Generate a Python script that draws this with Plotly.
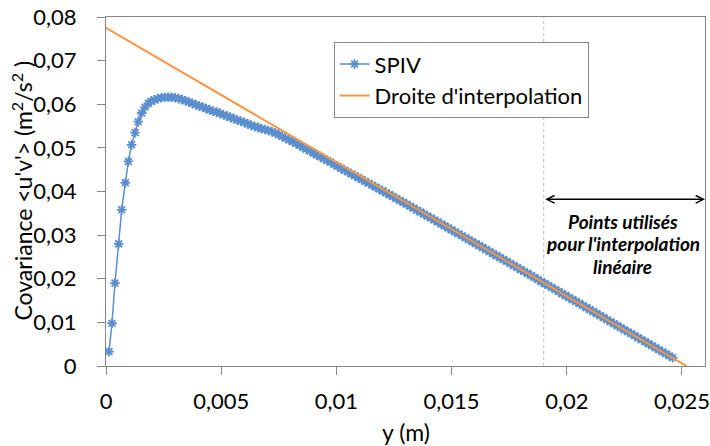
import plotly.graph_objects as go

# SPIV measurements (y in m, covariance in m^2/s^2)
spiv_x = [0.00013, 0.00026, 0.00039, 0.00055, 0.00068, 0.00084, 0.00097, 0.00111, 0.00126, 0.0014,
          0.00155, 0.00169, 0.00184,
          0.00195, 0.0021, 0.00225, 0.0024, 0.00255, 0.0027, 0.00285, 0.003, 0.00315, 0.0033,
          0.00345, 0.0036, 0.00375, 0.0039, 0.00405, 0.0042, 0.00435, 0.0045, 0.00465, 0.0048,
          0.00495, 0.0051, 0.00525, 0.0054, 0.00555, 0.0057, 0.00585, 0.006, 0.00615, 0.0063,
          0.00645, 0.0066, 0.00675, 0.0069, 0.00705, 0.0072, 0.00735, 0.0075, 0.00765, 0.0078,
          0.00795, 0.0081, 0.00825, 0.0084, 0.00855, 0.0087, 0.00885, 0.009, 0.00915, 0.0093,
          0.00945, 0.0096, 0.00975, 0.0099, 0.01005, 0.0102,
          0.01035, 0.0105, 0.01065, 0.0108, 0.01095, 0.0111, 0.01125, 0.0114, 0.01155, 0.0117,
          0.01185, 0.012, 0.01215, 0.0123, 0.01245, 0.0126, 0.01275, 0.0129, 0.01305, 0.0132,
          0.01335, 0.0135, 0.01365, 0.0138, 0.01395, 0.0141, 0.01425, 0.0144, 0.01455, 0.0147,
          0.01485, 0.015, 0.01515, 0.0153, 0.01545, 0.0156, 0.01575, 0.0159, 0.01605, 0.0162,
          0.01635, 0.0165, 0.01665, 0.0168, 0.01695, 0.0171, 0.01725, 0.0174, 0.01755, 0.0177,
          0.01785, 0.018, 0.01815, 0.0183, 0.01845, 0.0186, 0.01875, 0.0189, 0.01905, 0.0192,
          0.01935, 0.0195, 0.01965, 0.0198, 0.01995, 0.0201, 0.02025, 0.0204, 0.02055, 0.0207,
          0.02085, 0.021, 0.02115, 0.0213, 0.02145, 0.0216, 0.02175, 0.0219, 0.02205, 0.0222,
          0.02235, 0.0225, 0.02265, 0.0228, 0.02295, 0.0231, 0.02325, 0.0234, 0.02355, 0.0237,
          0.02385, 0.024, 0.02415, 0.0243, 0.02445, 0.0246]
spiv_y = [0.0033, 0.0098, 0.019, 0.028, 0.0358, 0.042, 0.0469, 0.0507, 0.0535, 0.056,
          0.058, 0.0593, 0.0602,
          0.0607, 0.0610, 0.0613, 0.0615, 0.0616, 0.0616, 0.0616, 0.0615, 0.0613, 0.0611,
          0.0608, 0.0605, 0.0602, 0.0599, 0.0596, 0.0593, 0.0590, 0.0587, 0.0584, 0.0582,
          0.0579, 0.0576, 0.0573, 0.0570, 0.0567, 0.0564, 0.0561, 0.0558, 0.0555, 0.0552,
          0.0549, 0.0547, 0.0544, 0.0542, 0.0540, 0.0537, 0.0534, 0.0530, 0.0526, 0.0522,
          0.0518, 0.0514, 0.0510, 0.0506, 0.0501, 0.0497, 0.0493, 0.0488, 0.0484, 0.0480,
          0.0475, 0.0471, 0.0467, 0.0462, 0.0458, 0.0453,
          0.04489, 0.04446, 0.04403, 0.0436, 0.04317, 0.04274, 0.04231, 0.04188, 0.04144, 0.04101,
          0.04058, 0.04015, 0.03972, 0.03928, 0.03884, 0.0384, 0.03795, 0.03751, 0.03707, 0.03662,
          0.03617, 0.03572, 0.03527, 0.03482, 0.03436, 0.03391, 0.03346, 0.03301, 0.03256, 0.03211,
          0.03166, 0.0312, 0.03075, 0.0303, 0.02985, 0.0294, 0.02895, 0.0285, 0.02805, 0.02759,
          0.02713, 0.02667, 0.02622, 0.02576, 0.02531, 0.02485, 0.0244, 0.02394, 0.02348, 0.02302,
          0.02256, 0.0221, 0.02165, 0.02119, 0.02073, 0.02027, 0.01981, 0.01935, 0.01889, 0.01844,
          0.01798, 0.01752, 0.01706, 0.01659, 0.01614, 0.01568, 0.01522, 0.01477, 0.01431, 0.01385,
          0.01339, 0.01292, 0.01246, 0.012, 0.01154, 0.01108, 0.01062, 0.01016, 0.0097, 0.00924,
          0.00878, 0.00832, 0.00786, 0.0074, 0.00694, 0.00648, 0.00602, 0.00556, 0.0051, 0.00464,
          0.00418, 0.00372, 0.00326, 0.0028, 0.00234, 0.00189]

# Interpolation line end points
fit_x = [0.0, 0.0252]
fit_y = [0.0775, 0.0]

# Region of points used for the linear fit
fit_start = 0.019
x_max = 0.026
arrow_y = 0.0382

x_title = "y (m)"
y_title = "Covariance <u'v'> (m<sup>2</sup>/s<sup>2</sup> )"

font_family = "Lato, 'Open Sans', sans-serif"
axis_col = "#868686"
blue = "#5A8ECF"
orange = "#F79646"

fig = go.Figure()
fig.add_trace(go.Scatter(
    x=spiv_x, y=spiv_y, mode="lines+markers", name="SPIV",
    line=dict(color=blue, width=1.5),
    marker=dict(symbol="asterisk-open", size=8, color=blue, line=dict(color=blue, width=1.8)),
))
fig.add_trace(go.Scatter(
    x=fit_x, y=fit_y, mode="lines", name="Droite d'interpolation",
    line=dict(color=orange, width=2),
))

fig.add_shape(type="line", x0=fit_start, x1=fit_start, y0=0, y1=0.08, xref="x", yref="y",
              line=dict(color="#BBBBBB", width=1, dash="dot"), layer="below")

fig.add_annotation(x=x_max, y=arrow_y, ax=fit_start, ay=arrow_y, xref="x", yref="y",
                   axref="x", ayref="y", text="", showarrow=True, arrowside="end+start",
                   arrowhead=5, startarrowhead=5, arrowsize=1, startarrowsize=1,
                   arrowwidth=1.5, arrowcolor="black")

note_lines = ["Points utilisés", "pour l'interpolation", "linéaire"]
note_y = [0.0332, 0.0281, 0.0229]
for t, yy in zip(note_lines, note_y):
    fig.add_annotation(x=0.02242, y=yy, xref="x", yref="y", text=f"<b><i>{t}</i></b>",
                       showarrow=False, font=dict(size=19, color="black", family=font_family))

# Axis titles
fig.add_annotation(x=-0.140, y=0.503, xref="paper", yref="paper", text=y_title, textangle=-90,
                   showarrow=False, xanchor="center", yanchor="middle",
                   font=dict(size=23, color="black", family=font_family))
fig.add_annotation(x=0.5, y=-0.189, xref="paper", yref="paper", text=x_title,
                   showarrow=False, xanchor="center", yanchor="middle",
                   font=dict(size=23, color="black", family=font_family))

fig.update_layout(
    width=710, height=446,
    margin=dict(l=106, r=5, t=17, b=80),
    paper_bgcolor="white", plot_bgcolor="white",
    separators=", ",
    font=dict(family=font_family, size=22, color="black"),
    showlegend=True,
    legend=dict(x=0.38, y=0.928, xanchor="left", yanchor="top",
                bgcolor="white", bordercolor=axis_col, borderwidth=1,
                font=dict(size=22), tracegroupgap=0),
)
fig.update_xaxes(
    range=[0, x_max], dtick=0.005, tick0=0, showgrid=False, zeroline=False,
    showline=True, linecolor=axis_col, linewidth=1, mirror=True, automargin=False,
    ticks="outside", ticklen=8, tickcolor=axis_col, ticklabelstandoff=8,
    ticklabeloverflow="allow",
)
fig.update_yaxes(
    range=[0, 0.08], dtick=0.01, tick0=0, showgrid=False, zeroline=False,
    showline=True, linecolor=axis_col, linewidth=1, mirror=True, automargin=False,
    ticks="outside", ticklen=8, tickcolor=axis_col, ticklabelstandoff=16,
    ticklabeloverflow="allow",
)

# remove the default 8 px body margin of the page, hide the mode bar
fig.write_html("out.html", post_script="document.body.style.margin='0';",
               config={"displayModeBar": False})
